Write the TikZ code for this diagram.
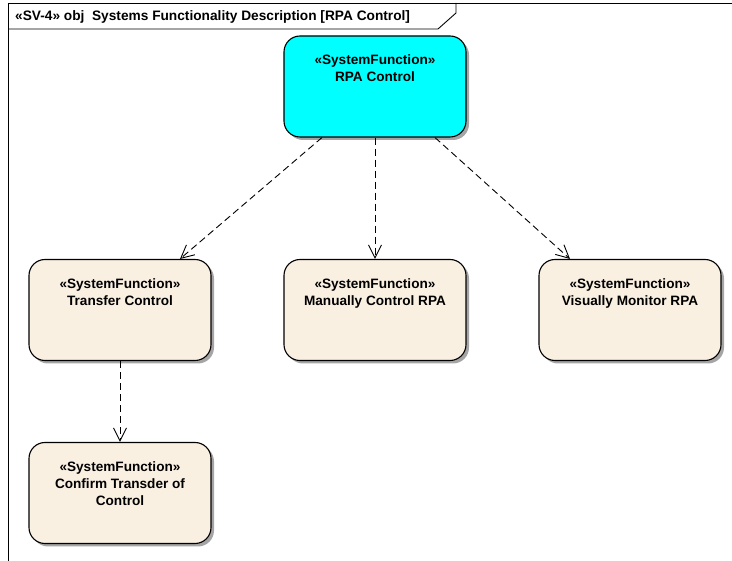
\documentclass[tikz,border=0pt]{standalone}
\usepackage{fontspec}
\setmainfont{Liberation Sans}
\usetikzlibrary{arrows.meta,shadows}
\definecolor{fnbeige}{RGB}{250,240,226}
\definecolor{fncyan}{RGB}{0,255,255}
\definecolor{shadowgray}{RGB}{165,165,165}
\newcommand{\fntext}[1]{\parbox[c][101pt][t]{182pt}{\centering\fontsize{13.6pt}{17pt}\selectfont\bfseries\vspace*{19pt}#1}}
\tikzset{
  fnbox/.style={draw=black, line width=1.1pt, rounded corners=16pt, inner sep=0pt, fill=fnbeige,
    drop shadow={shadow xshift=3pt, shadow yshift=-3pt, fill=shadowgray, opacity=1}},
  dep/.style={draw=black, line width=0.9pt, dash pattern=on 7pt off 4pt,
    -{Straight Barb[length=13pt,width=13pt,line width=0.9pt]}},
  frameline/.style={draw=black, line width=0.9pt}
}
\begin{document}
\begin{tikzpicture}[x=1pt,y=-1pt]
\useasboundingbox (0,0) rectangle (732,561);
% frame
\draw[frameline] (8,561) -- (8,3) -- (732,3);
\draw[frameline] (8,29) -- (438,29) -- (456,13) -- (456,3);
\node[anchor=west, inner sep=0pt, font=\fontsize{13.7pt}{15pt}\selectfont\bfseries] (hdr) at (15,17)
  {«SV-4» obj\ \ Systems Functionality Description [RPA Control]};
% nodes
\node[fnbox, fill=fncyan] (rpa) at (375,86.5) {\fntext{«SystemFunction»\\RPA Control}};
\node[fnbox] (tc) at (120,310) {\fntext{«SystemFunction»\\Transfer Control}};
\node[fnbox] (mc) at (375,310) {\fntext{«SystemFunction»\\Manually Control RPA}};
\node[fnbox] (vm) at (630,310) {\fntext{«SystemFunction»\\Visually Monitor RPA}};
\node[fnbox] (ct) at (120,493) {\fntext{«SystemFunction»\\Confirm Transder of\\Control}};
% connectors
\draw[dep] ([xshift=-53pt]rpa.south) -- ([xshift=60pt]tc.north);
\draw[dep] (rpa.south) -- (mc.north);
\draw[dep] ([xshift=60pt]rpa.south) -- ([xshift=-60pt]vm.north);
\draw[dep] (tc.south) -- (ct.north);
\end{tikzpicture}
\end{document}
